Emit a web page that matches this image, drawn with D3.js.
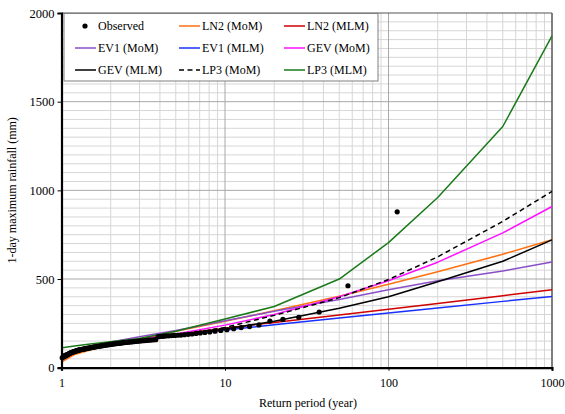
<!DOCTYPE html>
<html>
<head>
<meta charset="utf-8">
<script src="https://cdn.jsdelivr.net/npm/d3@7/dist/d3.min.js"></script>
<style>
  html, body { margin: 0; padding: 0; background: #fff; }
  svg { display: block; }
  text { font-family: "Liberation Serif", "Times New Roman", serif; fill: #000; }
</style>
</head>
<body>
<svg id="chart" width="565" height="414"></svg>
<script>
// ---------- data ----------
const returnPeriods = [1.01, 1.2, 1.5, 2, 3, 5, 10, 20, 50, 100, 200, 500, 1000];
const ln2MoM = [35, 74, 100, 128, 163, 205, 262, 321, 403, 470, 541, 640, 721];
const ln2MLM = [57, 95, 117, 137, 161, 189, 223, 255, 297, 330, 362, 406, 440];
const ev1MoM = [50, 90, 118, 145, 175, 210, 265, 318, 385, 440, 490, 545, 596];
const ev1MLM = [58, 97, 117, 135, 157, 182, 212, 242, 280, 308, 336, 374, 402];
const gevMoM = [55, 85, 108, 132, 158, 190, 240, 300, 400, 490, 595, 760, 909];
const gevMLM = [75, 100, 118, 135, 155, 178, 218, 262, 335, 400, 485, 600, 721];
const lp3MoM = [60, 85, 105, 128, 150, 180, 227, 295, 395, 497, 625, 825, 994];
const lp3MLM = [113, 122, 133, 146, 165, 205, 275, 345, 500, 705, 960, 1360, 1871];

const observedReturnPeriod = [
  113, 56.5, 37.67, 28.25, 22.6, 18.83, 16.14, 14.13, 12.56, 11.3,
  10.27, 9.42, 8.69, 8.07, 7.53, 7.06, 6.65, 6.28, 5.95, 5.65,
  5.38, 5.14, 4.91, 4.71, 4.52, 4.35, 4.19, 4.04, 3.9,
  3.77, 3.65, 3.53, 3.42, 3.32, 3.23, 3.14, 3.05, 2.97, 2.9, 2.83,
  2.76, 2.69, 2.63, 2.57, 2.51, 2.46, 2.4, 2.35, 2.31, 2.26,
  2.22, 2.17, 2.13, 2.09, 2.05, 2.02, 1.98, 1.95, 1.92, 1.88,
  1.85, 1.82, 1.79, 1.77, 1.74, 1.71, 1.69, 1.66, 1.64, 1.61,
  1.59, 1.57, 1.55, 1.53, 1.51, 1.49, 1.47, 1.45, 1.43, 1.41,
  1.40, 1.38, 1.36, 1.35, 1.33, 1.31, 1.30, 1.28, 1.27, 1.26,
  1.24, 1.23, 1.22, 1.20, 1.19, 1.18, 1.16, 1.15, 1.14, 1.13,
  1.12, 1.11, 1.10, 1.09, 1.08, 1.07, 1.06, 1.05, 1.04, 1.03, 1.02, 1.01
];
const observedRainfall = [
  879, 462, 314, 284, 272, 263, 241, 232, 226, 220,
  214, 210, 206, 202, 199, 196, 193, 190, 188, 186,
  184, 183, 182, 181, 180, 179, 178, 177, 175,
  158, 157, 156, 155, 154, 153, 152, 151, 150, 149, 148,
  147, 146, 145, 144, 143, 142, 141, 140, 139, 138,
  137, 136, 135, 134, 133, 132, 131, 130, 129, 128,
  127, 126, 125, 124, 123, 122, 121, 120, 119, 118,
  117, 116, 115, 114, 113, 112, 111, 110, 109, 108,
  107, 106, 105, 104, 103, 102, 101, 100, 99, 97,
  96, 95, 93, 92, 90, 89, 87, 86, 84, 82,
  80, 78, 76, 74, 72, 70, 68, 66, 64, 62, 60, 56
];

const xTickLabels = [1, 10, 100, 1000];
const yTickLabels = [0, 500, 1000, 1500, 2000];

const seriesNames = ["LN2 (MoM)", "LN2 (MLM)", "EV1 (MoM)", "EV1 (MLM)", "GEV (MoM)", "GEV (MLM)", "LP3 (MoM)", "LP3 (MLM)"];
const seriesValues = [ln2MoM, ln2MLM, ev1MoM, ev1MLM, gevMoM, gevMLM, lp3MoM, lp3MLM];
const seriesColors = ["#FF7010", "#D00000", "#8A4FC8", "#1830FF", "#FF10FF", "#000000", "#000000", "#1A7A1A"];
const seriesDash = [null, null, null, null, null, null, "5,3.5", null];

// ---------- layout ----------
const svg = d3.select("#chart");
const L = 61.5, R = 552, T = 13, B = 367.7;
const x = d3.scaleLog().domain([1, 1000]).range([L, R]);
const y = d3.scaleLinear().domain([0, 2000]).range([B, T]);

const g = svg.append("g");

// minor x grid
const minorX = [];
[1, 10, 100].forEach(d => { for (let k = 2; k <= 9; k++) minorX.push(d * k); });
g.append("g").selectAll("line").data(minorX).join("line")
  .attr("x1", d => x(d)).attr("x2", d => x(d))
  .attr("y1", T).attr("y2", B)
  .attr("stroke", "#D6D6D6").attr("stroke-width", 1);
// minor y grid
const minorY = d3.range(50, 2000, 50).filter(v => v % 500 !== 0);
g.append("g").selectAll("line").data(minorY).join("line")
  .attr("x1", L).attr("x2", R)
  .attr("y1", d => y(d)).attr("y2", d => y(d))
  .attr("stroke", "#D6D6D6").attr("stroke-width", 1);
// major grid
g.append("g").selectAll("line").data([10, 100]).join("line")
  .attr("x1", d => x(d)).attr("x2", d => x(d))
  .attr("y1", T).attr("y2", B)
  .attr("stroke", "#A8A8A8").attr("stroke-width", 1);
g.append("g").selectAll("line").data([500, 1000, 1500]).join("line")
  .attr("x1", L).attr("x2", R)
  .attr("y1", d => y(d)).attr("y2", d => y(d))
  .attr("stroke", "#A8A8A8").attr("stroke-width", 1);

// top / right border
g.append("line").attr("x1", L).attr("x2", R).attr("y1", T).attr("y2", T)
  .attr("stroke", "#555").attr("stroke-width", 1.2);
g.append("line").attr("x1", R).attr("x2", R).attr("y1", T).attr("y2", B)
  .attr("stroke", "#555").attr("stroke-width", 1.5);

// curves
const line = d3.line().x(d => x(d[0])).y(d => y(d[1]));
seriesValues.forEach((vals, i) => {
  const pts = returnPeriods.map((t, j) => [t, vals[j]]);
  g.append("path").datum(pts)
    .attr("d", line)
    .attr("fill", "none")
    .attr("stroke", seriesColors[i])
    .attr("stroke-width", 1.5)
    .attr("stroke-linejoin", "round")
    .attr("stroke-dasharray", seriesDash[i]);
});

// observed points
g.append("g").selectAll("circle")
  .data(observedRainfall.map((v, i) => [observedReturnPeriod[i], v]))
  .join("circle")
  .attr("cx", d => x(d[0])).attr("cy", d => y(d[1])).attr("r", 2.6)
  .attr("fill", "#000");

// axes
const yAxis = d3.axisLeft(y).tickValues(yTickLabels).tickFormat(d3.format("d")).tickSize(4).tickPadding(3);
const ya = svg.append("g").attr("transform", `translate(${L},0)`).call(yAxis)
  .attr("font-family", "Liberation Serif").attr("font-size", 12.5);
ya.select(".domain").attr("stroke", "#000").attr("stroke-width", 2.2);
ya.selectAll(".tick line").attr("stroke", "#000").attr("stroke-width", 1);
ya.selectAll("text").style("font-family", "Liberation Serif").style("font-size", "12.5px");

const xAxis = d3.axisBottom(x).tickValues(xTickLabels).tickFormat(d3.format("d")).tickSize(3).tickPadding(8);
const xa = svg.append("g").attr("transform", `translate(0,${B})`).call(xAxis)
  .attr("font-family", "Liberation Serif").attr("font-size", 12);
xa.select(".domain").attr("stroke", "#000").attr("stroke-width", 2.2);
xa.selectAll(".tick line").attr("stroke", "#000").attr("stroke-width", 1);
xa.selectAll("text").style("font-family", "Liberation Serif").style("font-size", "12px");

// axis titles
svg.append("text").attr("x", 308).attr("y", 406.5).attr("text-anchor", "middle")
  .style("font-size", "12px").text("Return period (year)");
svg.append("text").attr("transform", `translate(16,${(T + B) / 2}) rotate(-90)`)
  .attr("text-anchor", "middle").style("font-size", "12px")
  .text("1-day maximum rainfall (mm)");

// legend
const lg = svg.append("g");
lg.append("rect").attr("x", 64).attr("y", 13.5).attr("width", 314).attr("height", 67.5)
  .attr("fill", "#fff").attr("stroke", "#7f7f7f").attr("stroke-width", 1);
const legendItems = [{ name: "Observed", type: "dot" }].concat(
  seriesNames.map((n, i) => ({ name: n, type: "line", color: seriesColors[i], dash: seriesDash[i] })));
const colX = [75, 179, 284];
const rowY = [26, 48, 70];
legendItems.forEach((it, i) => {
  const cx = colX[i % 3], cy = rowY[Math.floor(i / 3)];
  if (it.type === "dot") {
    lg.append("circle").attr("cx", cx + 10).attr("cy", cy).attr("r", 2.6).attr("fill", "#000");
  } else {
    lg.append("line").attr("x1", cx).attr("x2", cx + 21).attr("y1", cy).attr("y2", cy)
      .attr("stroke", it.color).attr("stroke-width", 1.5).attr("stroke-dasharray", it.dash);
  }
  lg.append("text").attr("x", cx + 23).attr("y", cy + 4).style("font-size", "12px").text(it.name);
});
</script>
</body>
</html>
